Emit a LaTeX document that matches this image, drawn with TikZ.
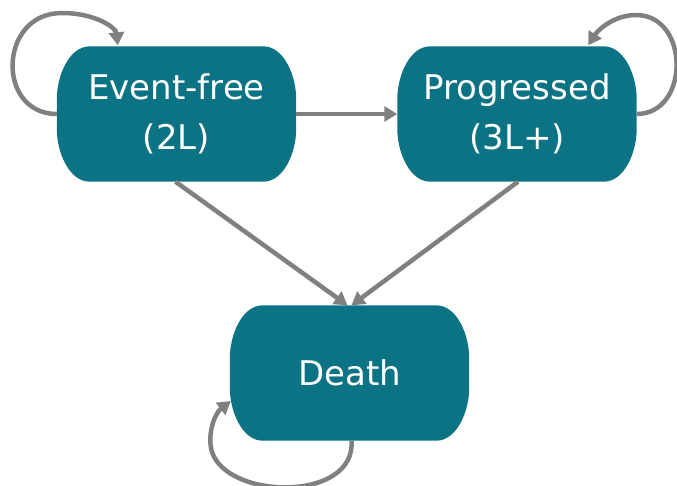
\documentclass[tikz,border=0pt]{standalone}
\usepackage{fontspec}
\setmainfont{DejaVu Sans}
\usetikzlibrary{arrows.meta,calc,backgrounds}
\definecolor{teal}{HTML}{0C7384}
\definecolor{arrowgray}{HTML}{808080}
\tikzset{
  statebox/.style={rectangle, draw=none, inner sep=0pt, minimum width=239pt,
    minimum height=135pt, text=white, align=center,
    font=\fontsize{34}{50}\selectfont},
  link/.style={draw=arrowgray, line width=4.5pt,
    -{Triangle[length=13pt,width=15pt]}},
}
\newcommand\capsulefill[1]{%
  \fill[teal] ($(#1.north west)+(33,0)$) -- ($(#1.north east)+(-33,0)$)
    .. controls ($(#1.north east)+(-12,0)$) and ($(#1.north east)+(0,30)$) .. ($(#1.east)+(0,-15)$)
    -- ($(#1.east)+(0,15)$)
    .. controls ($(#1.south east)+(0,-30)$) and ($(#1.south east)+(-12,0)$) .. ($(#1.south east)+(-33,0)$)
    -- ($(#1.south west)+(33,0)$)
    .. controls ($(#1.south west)+(12,0)$) and ($(#1.south west)+(0,-30)$) .. ($(#1.west)+(0,15)$)
    -- ($(#1.west)+(0,-15)$)
    .. controls ($(#1.north west)+(0,30)$) and ($(#1.north west)+(12,0)$) .. cycle;}
\begin{document}
\begin{tikzpicture}[x=1pt,y=-1pt]
\useasboundingbox (0,0) rectangle (677,485);
\node[statebox] (ef) at (176.5,114) {Event-free\\(2L)};
\node[statebox] (pr) at (517,114) {Progressed\\(3L+)};
\node[statebox] (de) at (349.5,373) {Death};
\begin{scope}[on background layer]
  \capsulefill{ef}
  \capsulefill{pr}
  \capsulefill{de}
\end{scope}
\coordinate (efin) at ($(ef.north west)+(61,-1)$);
\coordinate (prin) at ($(pr.north west)+(191,-1)$);
\coordinate (dein) at ($(de.west)+(1,28)$);
\coordinate (efdeath) at ($(de.north)+(-2,0)$);
\coordinate (prdeath) at ($(de.north)+(2,0)$);
\draw[link] (ef.east) -- (pr.west);
\draw[link] ($(ef.south)+(-1,0)$) -- (efdeath);
\draw[link] ($(pr.south)+(1,0)$) -- (prdeath);
\draw[link] (ef.west) .. controls (-4,114) and (-2,13) .. (62,13)
  .. controls (96,13) and (116,28) .. (efin);
\draw[link] (pr.east) .. controls (690,114) and (690,15) .. (636,15)
  .. controls (614,15) and (598,30) .. (prin);
\draw[link] ($(de.south)+(2,0)$) .. controls (356,502) and (228,500) .. (212,452)
  .. controls (207,436) and (214,414) .. (dein);
\end{tikzpicture}
\end{document}
